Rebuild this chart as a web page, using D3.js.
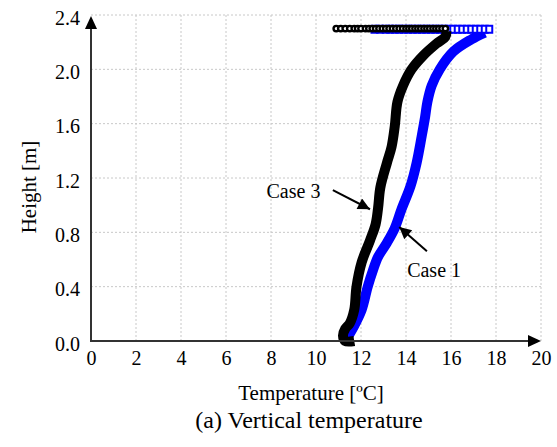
<!DOCTYPE html>
<html>
<head>
<meta charset="utf-8">
<script src="https://cdn.jsdelivr.net/npm/d3@7"></script>
<style>
  html, body { margin: 0; padding: 0; background: #fff; }
  svg { display: block; }
  svg text { font-family: 'Liberation Serif', 'Times New Roman', Times, 'DejaVu Serif', serif !important; }
</style>
</head>
<body>
<svg id="chart" width="557" height="447"></svg>
<script>
// ---- data ----
const xTicks = [0, 2, 4, 6, 8, 10, 12, 14, 16, 18, 20];
const yTicks = [0.0, 0.4, 0.8, 1.2, 1.6, 2.0, 2.4];

// Case 1 (blue) main profile
const case1Temp   = [11.3, 11.66, 12.03, 12.3, 12.53, 12.76, 13.14, 13.5, 13.8, 14.2, 14.47, 14.7, 14.85, 14.95, 15.14, 15.5, 16.1, 16.9, 17.5];
const case1Height = [0.0, 0.1, 0.23, 0.4, 0.52, 0.62, 0.72, 0.83, 0.97, 1.14, 1.31, 1.51, 1.65, 1.76, 1.88, 2.0, 2.13, 2.22, 2.27];
// Case 1 top row (near ceiling)
const case1TopTemp = [12.6, 12.85, 13.1, 13.3, 13.5, 13.7, 13.9, 14.1, 14.3, 14.5, 14.7, 14.9, 15.1, 15.3, 15.5, 15.7, 15.9, 16.1, 16.3, 16.5, 16.7, 16.9, 17.1, 17.3, 17.5, 17.7];
const case1TopHeight = 2.295;

// Case 3 (black) main profile
const case3Temp   = [11.7, 11.3, 11.2, 11.3, 11.5, 11.7, 11.8, 12.03, 12.4, 12.65, 12.76, 12.86, 13.15, 13.36, 13.5, 13.62, 13.87, 14.25, 14.76, 15.36, 15.75, 15.8];
const case3Height = [0.0, 0.0, 0.04, 0.09, 0.13, 0.23, 0.4, 0.58, 0.74, 0.86, 0.98, 1.13, 1.31, 1.43, 1.58, 1.76, 1.88, 2.0, 2.1, 2.19, 2.24, 2.28];
// Case 3 top row
const case3TopTemp = [10.9, 11.1, 11.3, 11.5, 11.7, 11.85, 12.0, 12.2, 12.35, 12.5, 12.65, 12.8, 12.95, 13.1, 13.25, 13.4, 13.55, 13.7, 13.85, 14.0, 14.13, 14.26, 14.4, 14.53, 14.66, 14.8, 14.93, 15.06, 15.2, 15.33, 15.46, 15.6, 15.75];
const case3TopHeight = 2.30;

// annotations
const annotations = [
  { label: "Case 3", textT: 7.8, textH: 1.055, fromT: 10.75, fromH: 1.11, toT: 12.4, toH: 0.97 },
  { label: "Case 1", textT: 14.05, textH: 0.47, fromT: 14.93, fromH: 0.66, toT: 13.7, toH: 0.84 }
];

// ---- drawing ----
const svg = d3.select("#chart");
const x = d3.scaleLinear().domain([0, 20]).range([91, 541]);
const y = d3.scaleLinear().domain([0, 2.4]).range([341, 15]);

// grid
const grid = svg.append("g");
grid.selectAll("line.v").data(xTicks.filter(d => d > 0)).enter().append("line")
  .attr("x1", d => x(d)).attr("x2", d => x(d))
  .attr("y1", y(0)).attr("y2", y(2.4))
  .attr("stroke", "#c8c8c8").attr("stroke-width", 1).attr("stroke-dasharray", "2,2");
grid.selectAll("line.h").data(yTicks.filter(d => d > 0)).enter().append("line")
  .attr("x1", x(0)).attr("x2", x(20))
  .attr("y1", d => y(d)).attr("y2", d => y(d))
  .attr("stroke", "#c8c8c8").attr("stroke-width", 1).attr("stroke-dasharray", "2,2");

// axes labels via d3 axes
const xAxis = svg.append("g").attr("transform", `translate(0,${y(0)})`)
  .call(d3.axisBottom(x).tickValues(xTicks).tickFormat(d3.format("d")).tickSize(0).tickPadding(10));
xAxis.attr("font-family", null).attr("font-size", null);
xAxis.select(".domain").remove();
xAxis.selectAll("text").style("font-size", "20px").attr("fill", "#000");

const yAxis = svg.append("g").attr("transform", `translate(${x(0)},0)`)
  .call(d3.axisLeft(y).tickValues(yTicks).tickFormat(d3.format(".1f")).tickSize(0).tickPadding(11));
yAxis.attr("font-family", null).attr("font-size", null);
yAxis.select(".domain").remove();
yAxis.selectAll("text").style("font-size", "20px").attr("fill", "#000").attr("dy", "0.45em");

// lines helpers
const line = d3.line().x(d => x(d[0])).y(d => y(d[1])).curve(d3.curveCatmullRom.alpha(0.5));

// Case 1 blue body
const c1 = case1Temp.map((t, i) => [t, case1Height[i]]);
svg.append("path").datum(c1).attr("d", line)
  .attr("fill", "none").attr("stroke", "#0000ff").attr("stroke-width", 10)
  .attr("stroke-linejoin", "round").attr("stroke-linecap", "butt");
// Case 1 top row markers
const c1top = case1TopTemp.map(t => [t, case1TopHeight]);
svg.append("path").datum(c1top).attr("d", d3.line().x(d => x(d[0])).y(d => y(d[1])))
  .attr("fill", "none").attr("stroke", "#0000ff").attr("stroke-width", 2);
svg.append("g").selectAll("rect").data(c1top).enter().append("rect")
  .attr("x", d => x(d[0]) - 3).attr("y", d => y(d[1]) - 3.5)
  .attr("width", 6).attr("height", 7)
  .attr("fill", "#fff").attr("stroke", "#0000ff").attr("stroke-width", 2);

// Case 3 black body
const c3 = case3Temp.map((t, i) => [t, case3Height[i]]);
svg.append("path").datum(c3).attr("d", line)
  .attr("fill", "none").attr("stroke", "#000").attr("stroke-width", 10)
  .attr("stroke-linejoin", "round").attr("stroke-linecap", "butt");
const c3top = case3TopTemp.map(t => [t, case3TopHeight]);
svg.append("path").datum(c3top).attr("d", d3.line().x(d => x(d[0])).y(d => y(d[1])))
  .attr("fill", "none").attr("stroke", "#000").attr("stroke-width", 5);
svg.append("g").selectAll("circle").data(c3top).enter().append("circle")
  .attr("cx", d => x(d[0])).attr("cy", d => y(d[1])).attr("r", 2.7)
  .attr("fill", "#fff").attr("stroke", "#000").attr("stroke-width", 2.4);

// axis lines with arrows
svg.append("line").attr("x1", x(0)).attr("x2", x(0)).attr("y1", y(0) + 1).attr("y2", y(2.4) + 10)
  .attr("stroke", "#333").attr("stroke-width", 2);
svg.append("line").attr("x1", x(0) - 1).attr("x2", x(20) - 10).attr("y1", y(0)).attr("y2", y(0))
  .attr("stroke", "#333").attr("stroke-width", 2);
svg.append("path")
  .attr("d", `M${x(0)},${y(2.4) + 1} L${x(0) - 6},${y(2.4) + 14} L${x(0) + 6},${y(2.4) + 14} Z`)
  .attr("fill", "#000");
svg.append("path")
  .attr("d", `M${x(20)},${y(0)} L${x(20) - 13},${y(0) - 6} L${x(20) - 13},${y(0) + 6} Z`)
  .attr("fill", "#000");

// annotations
svg.append("defs").append("marker")
  .attr("id", "ah").attr("viewBox", "0 0 10 10").attr("refX", 10).attr("refY", 5)
  .attr("markerWidth", 7.5).attr("markerHeight", 6).attr("markerUnits", "strokeWidth")
  .attr("orient", "auto")
  .append("path").attr("d", "M0,0 L10,5 L0,10 Z").attr("fill", "#000");
annotations.forEach(a => {
  svg.append("line")
    .attr("x1", x(a.fromT)).attr("y1", y(a.fromH))
    .attr("x2", x(a.toT)).attr("y2", y(a.toH))
    .attr("stroke", "#000").attr("stroke-width", 2).attr("marker-end", "url(#ah)");
  svg.append("text").attr("x", x(a.textT)).attr("y", y(a.textH))
    .style("font-size", "20px").attr("fill", "#000").text(a.label);
});

// axis titles
svg.append("text").attr("x", 311).attr("y", 400).attr("text-anchor", "middle")
  .style("font-size", "21px").text("Temperature [ºC]");
svg.append("text").attr("transform", "translate(36,187) rotate(-90)").attr("text-anchor", "middle")
  .style("font-size", "21px").text("Height [m]");
svg.append("text").attr("x", 309).attr("y", 428).attr("text-anchor", "middle")
  .style("font-size", "24px").text("(a) Vertical temperature");
</script>
</body>
</html>
